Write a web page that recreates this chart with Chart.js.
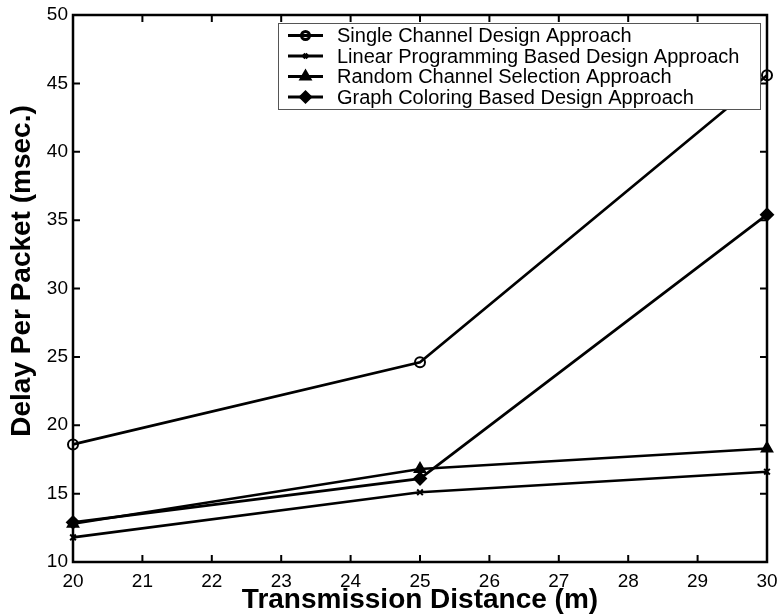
<!DOCTYPE html>
<html>
<head>
<meta charset="utf-8">
<script src="https://cdn.jsdelivr.net/npm/chart.js@4/dist/chart.umd.min.js"></script>
<style>
  html, body { margin: 0; padding: 0; background: #fff; }
  #wrap { width: 779px; height: 614px; position: relative; }
</style>
</head>
<body>
<div id="wrap"><canvas id="grafico"></canvas></div>
<script>
// dados
const distancias = [20, 25, 30];
const canalUnico = [18.6, 24.6, 45.6];
const progLinear = [11.8, 15.1, 16.6];
const canalAleatorio = [12.8, 16.8, 18.3];
const coloracaoGrafo = [12.9, 16.1, 35.4];
const rotulos = [
    'Single Channel Design Approach',
    'Linear Programming Based Design Approach',
    'Random Channel Selection Approach',
    'Graph Coloring Based Design Approach'
];
const ticksX = [20, 21, 22, 23, 24, 25, 26, 27, 28, 29, 30];
const ticksY = [10, 15, 20, 25, 30, 35, 40, 45, 50];
const tituloY = 'Delay Per Packet (msec.)';

const FONTE = '"Liberation Sans", Arial, sans-serif';

function serie(label, valores, estilo, raio, preenche) {
    return {
        label: label,
        data: distancias.map((x, i) => ({ x: x, y: valores[i] })),
        showLine: true,
        borderColor: '#000',
        borderWidth: 2.7,
        pointStyle: estilo,
        pointRadius: raio,
        pointBorderWidth: 2,
        pointBorderColor: '#000',
        pointBackgroundColor: preenche ? '#000' : 'rgba(0,0,0,0)',
        tension: 0,
        clip: 8
    };
}

// caixa, ticks para dentro, titulo Y e legenda no estilo matlab
const molduraMatlab = {
    id: 'molduraMatlab',
    afterDraw(chart) {
        const ctx = chart.ctx;
        const a = chart.chartArea;
        const sx = chart.scales.x, sy = chart.scales.y;
        ctx.save();
        ctx.strokeStyle = '#000';
        ctx.lineWidth = 2.5;
        ctx.strokeRect(a.left, a.top, a.right - a.left, a.bottom - a.top);
        ctx.lineWidth = 2;
        const tam = 7;
        ticksX.forEach(v => {
            const px = sx.getPixelForValue(v);
            ctx.beginPath();
            ctx.moveTo(px, a.bottom); ctx.lineTo(px, a.bottom - tam);
            ctx.moveTo(px, a.top); ctx.lineTo(px, a.top + tam);
            ctx.stroke();
        });
        ticksY.forEach(v => {
            const py = sy.getPixelForValue(v);
            ctx.beginPath();
            ctx.moveTo(a.left, py); ctx.lineTo(a.left + tam, py);
            ctx.moveTo(a.right, py); ctx.lineTo(a.right - tam, py);
            ctx.stroke();
        });

        // titulo do eixo Y (um pouco acima do centro, como no original)
        ctx.save();
        ctx.translate(22, 271);
        ctx.rotate(-Math.PI / 2);
        ctx.font = 'bold 28px ' + FONTE;
        ctx.fillStyle = '#000';
        ctx.textAlign = 'center';
        ctx.textBaseline = 'middle';
        ctx.fillText(tituloY, 0, 0);
        ctx.restore();

        // legenda
        const bx = 278, by = 23, bw = 482, bh = 86;
        ctx.fillStyle = '#fff';
        ctx.fillRect(bx, by, bw, bh);
        ctx.lineWidth = 1;
        ctx.strokeStyle = '#555';
        ctx.strokeRect(bx + 0.5, by + 0.5, bw, bh);
        ctx.font = '20px ' + FONTE;
        ctx.textBaseline = 'middle';
        chart.data.datasets.forEach((ds, i) => {
            const y = by + 12.5 + i * 20.5;
            ctx.strokeStyle = '#000';
            ctx.lineWidth = 3;
            ctx.beginPath();
            ctx.moveTo(288, y); ctx.lineTo(323, y);
            ctx.stroke();
            ctx.fillStyle = ds.pointBackgroundColor;
            Chart.helpers.drawPoint(ctx, {
                pointStyle: ds.pointStyle,
                radius: ds.pointRadius - 1,
                rotation: 0,
                borderWidth: 2
            }, 305.5, y);
            ctx.fillStyle = '#000';
            ctx.fillText(ds.label, 337, y + 1);
        });
        ctx.restore();
    }
};

window.onload = function() {
    const ctx = document.getElementById('grafico').getContext('2d');
    new Chart(ctx, {
        type: 'scatter',
        data: {
            datasets: [
                serie(rotulos[0], canalUnico, 'circle', 5, false),
                serie(rotulos[1], progLinear, 'crossRot', 4, true),
                serie(rotulos[2], canalAleatorio, 'triangle', 6, true),
                serie(rotulos[3], coloracaoGrafo, 'rectRot', 6, true)
            ]
        },
        options: {
            responsive: true,
            maintainAspectRatio: false,
            animation: false,
            layout: { padding: { left: 0, top: 15, right: 12, bottom: 0 } },
            plugins: { legend: { display: false }, tooltip: { enabled: false } },
            scales: {
                x: {
                    type: 'linear',
                    min: 20, max: 30,
                    afterBuildTicks: s => { s.ticks = ticksX.map(v => ({ value: v })); },
                    afterFit: s => { s.height = 52; s.paddingLeft = 0; s.paddingRight = 0; },
                    grid: { display: false, drawTicks: false, tickLength: 0 },
                    border: { display: false },
                    ticks: { color: '#000', font: { family: FONTE, size: 19 }, padding: 8, maxRotation: 0 },
                    title: {
                        display: true,
                        text: 'Transmission Distance (m)',
                        color: '#000',
                        font: { family: FONTE, size: 28, weight: 'bold', lineHeight: 1 },
                        padding: { top: 0, bottom: 0 }
                    }
                },
                y: {
                    type: 'linear',
                    min: 10, max: 50,
                    afterBuildTicks: s => { s.ticks = ticksY.map(v => ({ value: v })); },
                    afterFit: s => { s.width = 73; s.paddingTop = 0; s.paddingBottom = 0; },
                    grid: { display: false, drawTicks: false, tickLength: 0 },
                    border: { display: false },
                    ticks: { color: '#000', font: { family: FONTE, size: 19 }, padding: 5 },
                    title: { display: false }
                }
            }
        },
        plugins: [molduraMatlab]
    });
};
</script>
</body>
</html>
